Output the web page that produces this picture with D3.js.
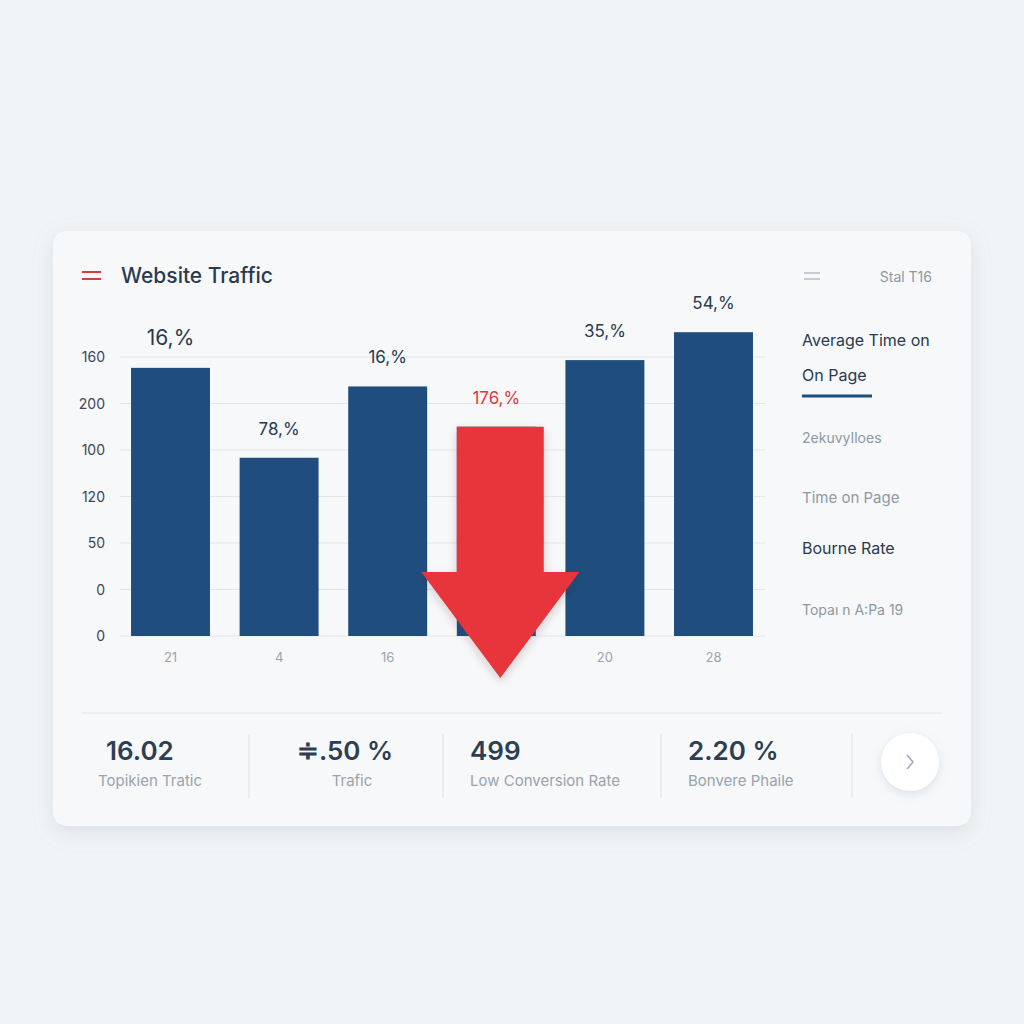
<!DOCTYPE html>
<html><head><meta charset="utf-8">
<script src="https://cdn.jsdelivr.net/npm/d3@7/dist/d3.min.js"></script>
<style>
html,body{margin:0;padding:0;background:#f1f4f6;}
svg{display:block;font-family:Inter,Roboto,"Noto Sans",sans-serif;}
</style></head>
<body>
<svg id="c" width="1024" height="1024"></svg>
<script>
// ---- data ----
const categories = ["21","4","16","","20","28"];
const values = [173, 115, 161, 135, 178, 196];
const barLabels = ["16,%","78,%","16,%","176,%","35,%","54,%"];
const highlightIndex = 3;
const gridValues = [0,30,60,90,120,150,180];
const tickLabels = ["0","0","50","120","100","200","160"];
const sideItems = ["2ekuvyIloes","Time on Page","Bourne Rate","Topa\u0131 n A:Pa 19"];
const kpiValues = ["16.02","\u2251.50 %","499","2.20 %"];
const kpiLabels = ["Topikien Tratic","Trafic","Low Conversion Rate","Bonvere Phaile"];

const svg = d3.select("#c");
const defs = svg.append("defs");
const f = defs.append("filter").attr("id","sh").attr("x","-10%").attr("y","-10%").attr("width","120%").attr("height","130%");
f.append("feDropShadow").attr("dx",0).attr("dy",6).attr("stdDeviation",10).attr("flood-color","#8a9aa8").attr("flood-opacity",0.22);
const f2 = defs.append("filter").attr("id","sh2").attr("x","-50%").attr("y","-50%").attr("width","200%").attr("height","200%");
f2.append("feDropShadow").attr("dx",0).attr("dy",3).attr("stdDeviation",5).attr("flood-color","#8a9aa8").attr("flood-opacity",0.25);
const f3 = defs.append("filter").attr("id","sh3").attr("x","-30%").attr("y","-30%").attr("width","160%").attr("height","160%");
f3.append("feDropShadow").attr("dx",0).attr("dy",4).attr("stdDeviation",5).attr("flood-color","#5a1a1a").attr("flood-opacity",0.2);

// card
svg.append("rect").attr("x",53).attr("y",231).attr("width",918).attr("height",595)
  .attr("rx",14).attr("fill","#f6f8fa").attr("filter","url(#sh)");

// header
svg.append("line").attr("x1",82).attr("x2",101).attr("y1",272).attr("y2",272).attr("stroke","#d9383c").attr("stroke-width",2);
svg.append("line").attr("x1",82).attr("x2",101).attr("y1",279).attr("y2",279).attr("stroke","#d9383c").attr("stroke-width",2);
svg.append("text").attr("x",121).attr("y",283).text("Website Traffic")
  .attr("font-size",21).attr("font-weight",500).attr("fill","#2a3a4e");

// scales
const x = d3.scaleBand().domain(d3.range(categories.length)).range([116.2,767.8]).paddingInner(0.273).paddingOuter(0.1365);
const y = d3.scaleLinear().domain([0,180]).range([636,357]);

// grid
svg.append("g").selectAll("line").data(gridValues).join("line")
  .attr("x1",120).attr("x2",765).attr("y1",d=>y(d)).attr("y2",d=>y(d))
  .attr("stroke","#e1e5ea").attr("stroke-width",1.2);
svg.append("g").selectAll("text").data(gridValues).join("text")
  .attr("x",105).attr("y",d=>y(d)+5).attr("text-anchor","end")
  .attr("font-size",14).attr("fill","#3a4656").text((d,i)=>tickLabels[i]);

// bars
svg.append("g").selectAll("rect").data(values).join("rect")
  .attr("x",(d,i)=>x(i)).attr("width",x.bandwidth())
  .attr("y",d=>y(d)).attr("height",d=>y(0)-y(d)).attr("fill","#1f4e7e");

// bar labels
svg.append("g").selectAll("text").data(values).join("text")
  .attr("x",(d,i)=>x(i)+x.bandwidth()/2).attr("y",d=>y(d)-23)
  .attr("text-anchor","middle")
  .attr("font-size",(d,i)=>i===0?21:17)
  .attr("fill",(d,i)=>i===highlightIndex?"#e0393b":"#2a3a4e")
  .text((d,i)=>barLabels[i]);

// x labels
svg.append("g").selectAll("text").data(categories).join("text")
  .attr("x",(d,i)=>x(i)+x.bandwidth()/2).attr("y",662).attr("text-anchor","middle")
  .attr("font-size",13).attr("fill","#9aa4ae").text(d=>d);

// red arrow over highlighted bar
{
  const bx = x(highlightIndex), bw = x.bandwidth();
  const top = y(values[highlightIndex]);
  const sx0 = bx, sx1 = bx + bw + 8;
  const cx = (sx0+sx1)/2;
  const headY = 572, tipY = 678, hw = 79;
  const pts = [[sx0,top],[sx1,top],[sx1,headY],[cx+hw,headY],[cx,tipY],[cx-hw,headY],[sx0,headY]];
  svg.append("path").attr("d", d3.line()(pts)+"Z").attr("fill","#e8353a").attr("filter","url(#sh3)");
}

// right panel
svg.append("line").attr("x1",804).attr("x2",820).attr("y1",273).attr("y2",273).attr("stroke","#b4bcc5").attr("stroke-width",1.5);
svg.append("line").attr("x1",804).attr("x2",820).attr("y1",279).attr("y2",279).attr("stroke","#b4bcc5").attr("stroke-width",1.5);
svg.append("text").attr("x",932).attr("y",282).attr("text-anchor","end").attr("font-size",14).attr("fill","#8e98a3").text("Stal \u03a416");
svg.append("text").attr("x",802).attr("y",346).attr("font-size",16).attr("fill","#2a3a4e").text("Average Time on");
svg.append("text").attr("x",802).attr("y",381).attr("font-size",16).attr("fill","#2a3a4e").text("On Page");
svg.append("line").attr("x1",802).attr("x2",872).attr("y1",396).attr("y2",396).attr("stroke","#1f4e7e").attr("stroke-width",3);
const sideY = [443,503,554,615];
const sideCol = ["#8e98a3","#8e98a3","#2a3a4e","#8e98a3"];
const sideSize = [14,15,16,14];
svg.append("g").selectAll("text").data(sideItems).join("text")
  .attr("x",802).attr("y",(d,i)=>sideY[i]).attr("font-size",(d,i)=>sideSize[i])
  .attr("fill",(d,i)=>sideCol[i]).text(d=>d);

// bottom KPIs
svg.append("line").attr("x1",82).attr("x2",943).attr("y1",713).attr("y2",713).attr("stroke","#e1e5ea").attr("stroke-width",1.2);
[249,443,661,852].forEach(d=>{
  svg.append("line").attr("x1",d).attr("x2",d).attr("y1",734).attr("y2",798).attr("stroke","#e1e5ea").attr("stroke-width",1.2);
});
const kpiX = [106,345,470,688];
const kpiLX = [98,352,470,688];
const kpiAnchor = ["start","middle","start","start"];
svg.append("g").selectAll("text").data(kpiValues).join("text")
  .attr("x",(d,i)=>kpiX[i]).attr("y",760).attr("text-anchor",(d,i)=>kpiAnchor[i])
  .attr("font-size",26).attr("font-weight",600).attr("fill","#2e3e52").text(d=>d);
svg.append("g").selectAll("text").data(kpiLabels).join("text")
  .attr("x",(d,i)=>kpiLX[i]).attr("y",786).attr("text-anchor",(d,i)=>kpiAnchor[i])
  .attr("font-size",15).attr("fill","#9aa3ad").text(d=>d);

// circle button
svg.append("circle").attr("cx",910).attr("cy",762).attr("r",29).attr("fill","#ffffff").attr("filter","url(#sh2)");
svg.append("path").attr("d","M907,755 L913,762 L907,769").attr("fill","none").attr("stroke","#a3acb5").attr("stroke-width",1.6);
</script>
</body></html>
